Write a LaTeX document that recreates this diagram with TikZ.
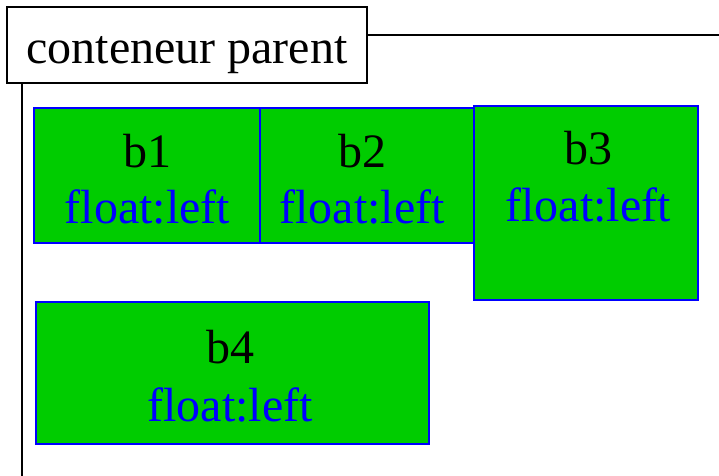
\documentclass[tikz,border=0pt]{standalone}
\usepackage{fontspec}
\setmainfont{Liberation Serif}
\definecolor{boxgreen}{HTML}{00CC00}
\definecolor{boxblue}{HTML}{0000FF}
\begin{document}
\begin{tikzpicture}[x=1pt,y=-1pt,
  floatbox/.style={draw=boxblue, fill=boxgreen, line width=2pt, inner sep=0pt},
  bigtext/.style={font=\fontsize{48}{50}\selectfont, inner sep=0pt, anchor=base},
  bluetext/.style={bigtext, text=boxblue},
  frame/.style={draw=black, line width=2pt}]
\useasboundingbox (0,0) rectangle (719,475);
% parent container
\node[frame, fill=white, minimum width=360pt, minimum height=76pt, inner sep=0pt] (title) at (187,45) {};
\node[bigtext] (titletext) at (187,63) {conteneur parent};
\coordinate (rightend) at (722,35);
\coordinate (bottomend) at (22,478);
\draw[frame] (title.east |- rightend) -- (rightend);
\draw[frame] (title.south -| bottomend) -- (bottomend);
% floats
\node[floatbox, minimum width=226pt, minimum height=135pt] (b1) at (147,175.5) {};
\node[floatbox, minimum width=214pt, minimum height=135pt] (b2) at (367,175.5) {};
\node[floatbox, minimum width=224pt, minimum height=194pt] (b3) at (586,203) {};
\node[floatbox, minimum width=393pt, minimum height=142pt] (b4) at (232.5,373) {};
% texts
\node[bigtext] (b1n) at (147.5,167) {b1};
\node[bluetext] (b1f) at (147.5,223) {float:left};
\node[bigtext] (b2n) at (362,167) {b2};
\node[bluetext] (b2f) at (362,223) {float:left};
\node[bigtext] (b3n) at (588,164) {b3};
\node[bluetext] (b3f) at (588,221) {float:left};
\node[bigtext] (b4n) at (230,363) {b4};
\node[bluetext] (b4f) at (230,421) {float:left};
\end{tikzpicture}
\end{document}
